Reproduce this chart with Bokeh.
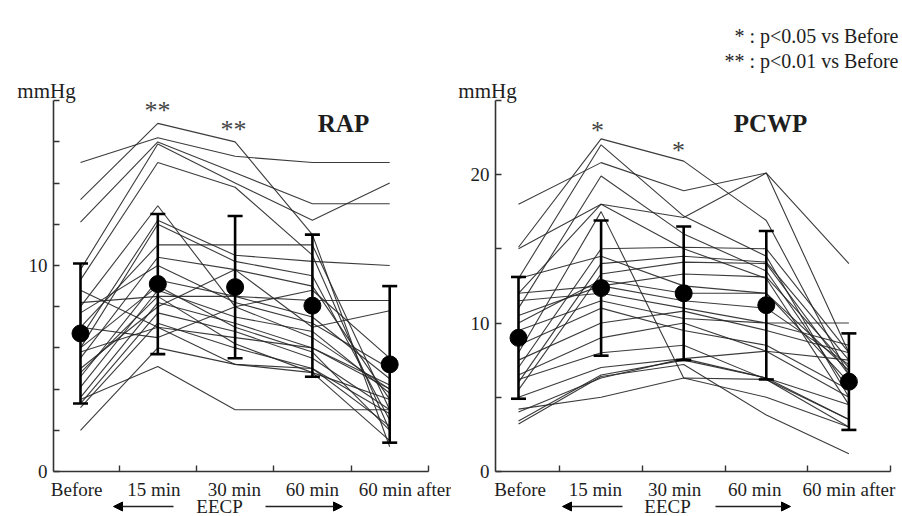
from bokeh.plotting import figure
from bokeh.models import Range1d, FixedTicker, Label, Arrow, NormalHead
from bokeh.layouts import row
from bokeh.embed import file_html
from bokeh.resources import INLINE

categories = ["Before", "15 min", "30 min", "60 min", "60 min after"]

# RAP (mmHg)
rap_mean = [6.7, 9.1, 8.95, 8.05, 5.2]
rap_sd = [3.4, 3.4, 3.45, 3.45, 3.8]
rap_lines = [
    [15.0, 16.2, 15.3, 15.0, 15.0],
    [13.2, 16.9, 16.0, 11.5, 1.2],
    [12.1, 16.0, 14.5, 13.0, 13.0],
    [9.8, 15.9, 14.0, 12.2, 14.0],
    [9.3, 15.0, 13.8, 10.5, 2.0],
    [8.0, 12.9, 8.0, 6.5, 4.0],
    [7.0, 11.0, 11.0, 11.0, 3.0],
    [6.5, 12.2, 10.5, 10.2, 10.0],
    [6.0, 12.0, 10.2, 9.5, 2.5],
    [5.5, 10.4, 9.8, 9.0, 3.5],
    [8.2, 8.5, 8.5, 8.3, 8.3],
    [5.0, 8.0, 9.8, 7.0, 7.8],
    [4.6, 9.3, 8.5, 7.5, 4.5],
    [4.1, 8.8, 7.5, 6.8, 3.8],
    [3.6, 8.2, 7.2, 6.0, 4.2],
    [3.3, 7.7, 6.8, 5.5, 3.0],
    [3.1, 7.2, 6.0, 5.0, 2.2],
    [2.0, 6.0, 5.2, 5.0, 2.8],
    [3.5, 5.1, 3.0, 3.0, 3.0],
    [7.0, 6.5, 8.0, 8.8, 5.5],
    [8.8, 7.0, 6.5, 6.0, 4.0],
    [6.0, 9.0, 7.0, 5.8, 2.0],
    [4.8, 8.5, 6.2, 4.8, 1.5],
    [5.8, 7.0, 5.2, 4.8, 3.5],
    [7.7, 10.0, 8.2, 7.2, 5.0],
]

# PCWP (mmHg)
pcwp_mean = [9.0, 12.35, 12.0, 11.2, 6.05]
pcwp_sd = [4.1, 4.55, 4.5, 5.0, 3.25]
pcwp_lines = [
    [18.0, 20.8, 18.9, 20.1, 14.0],
    [15.1, 22.4, 20.9, 16.9, 6.5],
    [13.0, 22.0, 17.2, 14.5, 5.0],
    [15.0, 18.0, 17.1, 20.1, 8.0],
    [11.0, 19.9, 16.0, 13.5, 5.5],
    [12.0, 18.0, 15.0, 13.0, 4.5],
    [8.0, 17.5, 6.3, 5.0, 3.0],
    [7.0, 15.0, 15.1, 15.0, 8.0],
    [6.0, 14.0, 14.5, 14.1, 7.5],
    [5.5, 13.3, 14.1, 14.0, 6.5],
    [10.0, 12.9, 12.0, 12.0, 6.0],
    [12.0, 12.5, 13.3, 13.1, 7.0],
    [11.5, 12.0, 11.0, 10.0, 8.5],
    [9.5, 11.5, 10.3, 10.0, 10.0],
    [7.5, 10.0, 10.8, 9.5, 8.0],
    [6.5, 9.0, 10.0, 8.1, 7.5],
    [5.0, 7.0, 7.6, 8.1, 5.0],
    [4.0, 6.3, 7.6, 6.3, 4.5],
    [3.4, 6.5, 7.5, 6.3, 3.5],
    [3.2, 6.4, 7.2, 3.8, 1.2],
    [4.2, 5.0, 6.3, 6.2, 3.0],
    [6.2, 8.0, 8.5, 6.2, 3.5],
    [8.5, 11.0, 9.5, 8.5, 5.5],
    [10.5, 12.5, 11.5, 11.0, 7.2],
    [13.0, 14.5, 12.5, 12.0, 6.8],
]

rap_yticks = [0, 10]
rap_yminor = [2, 4, 6, 8, 12, 14, 16, 18]
pcwp_yticks = [0, 10, 20]
pcwp_yminor = [5, 15, 25]

FONT = "Liberation Serif"
INK = "#1e1e1e"
W, H = 451, 516


def panel(name, lines, mean, sd, ymax, yticks, yminor, axis_px, x0px, page_off, upx, upy, label_pos):
    # pixel <-> data helpers (local figure pixels; y pixels from top)
    def px_to_x(px):
        return (px - x0px) / upx

    def px_to_y(py):
        return (471 - py) / upy

    x_axis_start = px_to_x(axis_px)
    p = figure(width=W, height=H, output_backend="svg", toolbar_location=None,
               x_range=Range1d(px_to_x(page_off), px_to_x(page_off + W)),
               y_range=Range1d(px_to_y(H), px_to_y(0)),
               min_border=0)
    p.outline_line_color = None
    p.xgrid.visible = False
    p.ygrid.visible = False
    p.background_fill_color = "white"
    p.border_fill_color = "white"

    xs = list(range(len(categories)))
    p.multi_line([xs for _ in lines], lines, line_color="#262626", line_width=1.1, line_alpha=0.9)

    upper = [m + s for m, s in zip(mean, sd)]
    lower = [m - s for m, s in zip(mean, sd)]
    p.segment(x0=xs, y0=lower, x1=xs, y1=upper, line_color="black", line_width=2.6)
    p.scatter(xs, upper, marker="dash", size=15, line_color="black", line_width=2.6)
    p.scatter(xs, lower, marker="dash", size=15, line_color="black", line_width=2.6)
    p.scatter(xs, mean, size=17, fill_color="black", line_color="black")

    # x axis
    xa = p.xaxis[0]
    xa.fixed_location = 0
    xa.bounds = (x_axis_start, 4.5)
    xa.ticker = FixedTicker(ticks=label_pos, minor_ticks=[0.5, 1.5, 2.5, 3.5, 4.5])
    xa.major_label_overrides = {pos: c for pos, c in zip(label_pos, categories)}
    xa.major_tick_in = 0
    xa.major_tick_out = 0
    xa.minor_tick_in = 6
    xa.minor_tick_out = 0
    xa.major_label_standoff = 7
    # y axis
    ya = p.yaxis[0]
    ya.fixed_location = x_axis_start
    ya.bounds = (0, ymax)
    ya.ticker = FixedTicker(ticks=yticks, minor_ticks=yminor)
    ya.major_tick_in = 6
    ya.major_tick_out = 0
    ya.minor_tick_in = 6
    ya.minor_tick_out = 0
    ya.major_label_standoff = 6
    for ax in (xa, ya):
        ax.axis_line_color = "#333333"
        ax.axis_line_width = 1.6
        ax.major_tick_line_color = "#333333"
        ax.major_tick_line_width = 1.4
        ax.minor_tick_line_color = "#333333"
        ax.minor_tick_line_width = 1.4
        ax.major_label_text_font = FONT
        ax.major_label_text_font_size = "19px"
        ax.major_label_text_color = INK

    return p, px_to_x, px_to_y


p1, fx1, fy1 = panel("RAP", rap_lines, rap_mean, rap_sd, 18, rap_yticks, rap_yminor,
                     53, 80, 0, 77.3, 20.6, [-0.05, 0.95, 1.99, 3.0, 4.23])
p2, fx2, fy2 = panel("PCWP", pcwp_lines, pcwp_mean, pcwp_sd, 25, pcwp_yticks, pcwp_yminor,
                     495, 518, 451, 82.6, 14.85, [0.02, 0.93, 1.89, 2.86, 4.0])


def add_texts(p, fx, fy, name, mm_x, title_x, eecp_x, larrow, rarrow, stars):
    p.add_layout(Label(x=fx(mm_x), y=fy(90), text="mmHg",
                       text_font=FONT, text_font_size="21px", text_color=INK,
                       text_align="center", text_baseline="middle"))
    p.add_layout(Label(x=fx(title_x), y=fy(123), text=name,
                       text_font=FONT, text_font_size="25px", text_font_style="bold", text_color=INK,
                       text_align="center", text_baseline="middle"))
    ey = fy(506)
    p.add_layout(Label(x=fx(eecp_x), y=ey, text="EECP", text_font=FONT, text_font_size="19px",
                       text_color=INK, text_align="center", text_baseline="middle"))
    p.add_layout(Arrow(end=NormalHead(size=9, fill_color="black", line_color="black"),
                       x_start=fx(larrow[1]), y_start=ey, x_end=fx(larrow[0]), y_end=ey,
                       line_width=1.4, line_color="#222222"))
    p.add_layout(Arrow(end=NormalHead(size=9, fill_color="black", line_color="black"),
                       x_start=fx(rarrow[0]), y_start=ey, x_end=fx(rarrow[1]), y_end=ey,
                       line_width=1.4, line_color="#222222"))
    for (x, y, t) in stars:
        p.add_layout(Label(x=fx(x), y=fy(y + 2), text=t, text_font=FONT, text_font_size="26px",
                           text_color="#444444", text_align="center", text_baseline="alphabetic"))


add_texts(p1, fx1, fy1, "RAP", 46, 343, 219, (113, 173), (265, 342),
          [(157, 108, "**"), (233, 127, "**")])
add_texts(p2, fx2, fy2, "PCWP", 487, 770, 667, (562, 622), (715, 790),
          [(597, 128, "*"), (678, 148, "*")])

# legend
for y, t in [(35, "* : p<0.05 vs Before"), (60, "** : p<0.01 vs Before")]:
    p2.add_layout(Label(x=fx2(898), y=fy2(y), text=t, text_font=FONT, text_font_size="20px",
                        text_color=INK, text_align="right", text_baseline="middle"))

layout = row(p1, p2, spacing=0)
open("out.html", "w").write(file_html(layout, INLINE))
